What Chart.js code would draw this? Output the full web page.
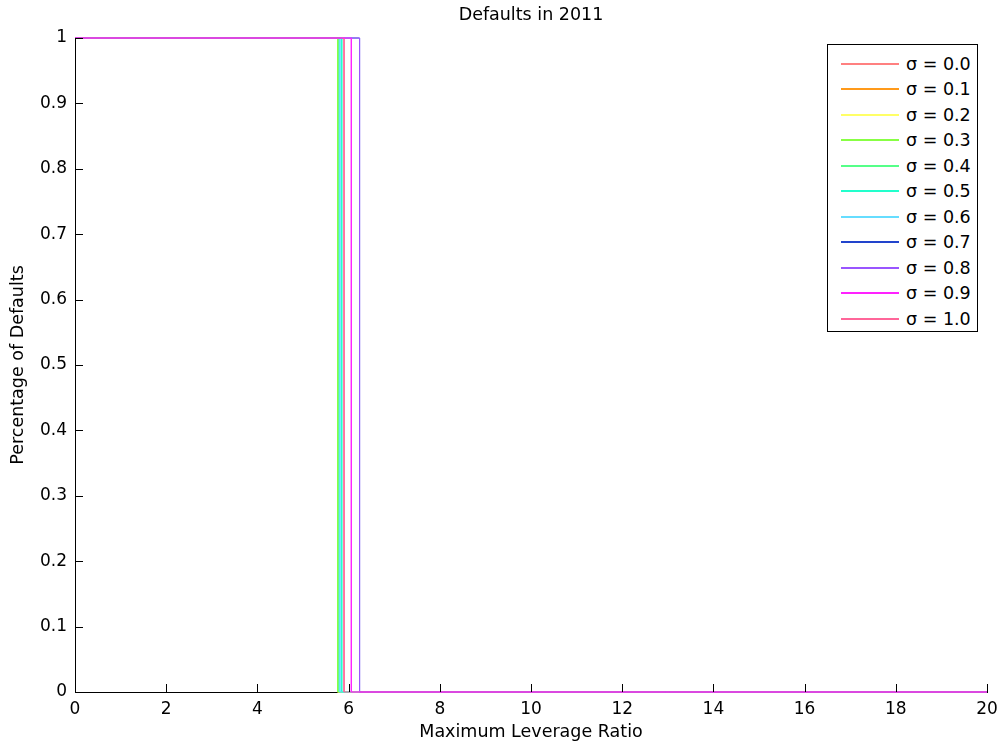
<!DOCTYPE html>
<html lang="en">
<head>
  <meta charset="UTF-8">
  <title>Defaults in 2011</title>
  <script src="https://cdn.jsdelivr.net/npm/chart.js"></script>
  <style>
    body {
      margin: 0;
      background: #fff;
      font-family: "DejaVu Sans", sans-serif;
    }
    .wrap {
      position: relative;
      width: 1002px;
      height: 744px;
    }
    .title {
      position: absolute;
      left: 75px;
      width: 912px;
      top: 4px;
      text-align: center;
      font-size: 17.5px;
      color: #000;
    }
    .legend {
      position: absolute;
      left: 827px;
      top: 44px;
      width: 151px;
      height: 288px;
      border: 1px solid #000;
      background: #fff;
      padding-top: 6px;
      box-sizing: border-box;
    }
    .legend .row {
      height: 25.5px;
      display: flex;
      align-items: center;
      font-size: 17.5px;
      color: #000;
    }
    .legend .swatch {
      width: 58px;
      height: 0;
      margin-left: 13px;
      margin-right: 7px;
      border-top: 2px solid;
    }
  </style>
</head>
<body>

<div class="wrap">
  <canvas id="defaultsChart" width="1002" height="744"></canvas>
  <div class="title">Defaults in 2011</div>
  <div class="legend" id="legend"></div>
</div>

<script>
  // sigma for each run
  const sigmaValues = [0.0, 0.1, 0.2, 0.3, 0.4, 0.5, 0.6, 0.7, 0.8, 0.9, 1.0];
  // leverage ratio where the share of defaults drops from 1 to 0
  const dropLeverage = [5.76, 5.76, 5.76, 5.76, 5.79, 5.85, 5.81, 6.24, 6.24, 6.06, 5.90];
  const defaultShareBelow = 1;
  const defaultShareAbove = 0;
  const leverageMin = 0;
  const leverageMax = 20;
  const seriesColors = ['#ff8080', '#ff9a1a', '#ffff66', '#88ff44', '#55ff88', '#22ffcc',
                        '#66ddff', '#2244cc', '#9955ff', '#ff22ff', '#ff6699'];

  // step curve for one sigma
  function stepPoints(t) {
    return [
      { x: leverageMin, y: defaultShareBelow },
      { x: t, y: defaultShareBelow },
      { x: t, y: defaultShareAbove },
      { x: leverageMax, y: defaultShareAbove }
    ];
  }

  const datasets = sigmaValues.map((s, i) => ({
    label: 'σ = ' + s.toFixed(1),
    data: stepPoints(dropLeverage[i]),
    borderColor: seriesColors[i],
    borderWidth: 1,
    pointRadius: 0,
    fill: false,
    clip: false,
    // later runs on top, sigma 0.9 topmost
    order: i === 9 ? -1 : sigmaValues.length - i
  }));

  // MATLAB style ticks pointing into the plot
  const inwardTicks = {
    id: 'inwardTicks',
    afterDraw(chart) {
      const { ctx, chartArea, scales } = chart;
      ctx.save();
      ctx.strokeStyle = '#000';
      ctx.lineWidth = 1;
      ctx.beginPath();
      scales.x.ticks.forEach(t => {
        const px = Math.round(scales.x.getPixelForValue(t.value)) + 0.5;
        ctx.moveTo(px, chartArea.bottom);
        ctx.lineTo(px, chartArea.bottom - 8);
      });
      scales.y.ticks.forEach(t => {
        const py = Math.round(scales.y.getPixelForValue(t.value)) + 0.5;
        ctx.moveTo(chartArea.left, py);
        ctx.lineTo(chartArea.left + 8, py);
      });
      ctx.stroke();
      ctx.restore();
    }
  };

  const tickFont = { family: 'DejaVu Sans', size: 17 };
  const labelFont = { family: 'DejaVu Sans', size: 17.5 };

  new Chart(document.getElementById('defaultsChart'), {
    type: 'line',
    data: { datasets: datasets },
    options: {
      responsive: false,
      animation: false,
      layout: { padding: { top: 38, right: 15, left: 0, bottom: 0 } },
      plugins: {
        legend: { display: false },
        tooltip: { enabled: false }
      },
      scales: {
        x: {
          type: 'linear',
          min: leverageMin,
          max: leverageMax,
          ticks: { stepSize: 2, color: '#000', font: tickFont, padding: 7, maxRotation: 0 },
          grid: { drawOnChartArea: false, drawTicks: false },
          border: { display: true, color: '#000', width: 1 },
          title: {
            display: true,
            text: 'Maximum Leverage Ratio',
            color: '#000',
            font: labelFont,
            padding: { top: 0, bottom: 1 }
          },
          afterFit: scale => {
            scale.height = 52;
            scale.paddingLeft = 0;
            scale.paddingRight = 0;
          }
        },
        y: {
          min: 0,
          max: 1,
          ticks: {
            stepSize: 0.1,
            color: '#000',
            font: tickFont,
            padding: 8,
            callback: v => String(Number(v.toFixed(1)))
          },
          grid: { drawOnChartArea: false, drawTicks: false },
          border: { display: true, color: '#000', width: 1 },
          title: {
            display: true,
            text: 'Percentage of Defaults',
            color: '#000',
            font: labelFont,
            padding: { top: 8, bottom: 0 }
          },
          afterFit: scale => { scale.width = 75; }
        }
      }
    },
    plugins: [inwardTicks]
  });

  // legend box inside the plot, top right
  const legendEl = document.getElementById('legend');
  datasets.forEach((d, i) => {
    const row = document.createElement('div');
    row.className = 'row';
    const sw = document.createElement('span');
    sw.className = 'swatch';
    sw.style.borderColor = seriesColors[i];
    const txt = document.createElement('span');
    txt.textContent = d.label;
    row.appendChild(sw);
    row.appendChild(txt);
    legendEl.appendChild(row);
  });
</script>

</body>
</html>
